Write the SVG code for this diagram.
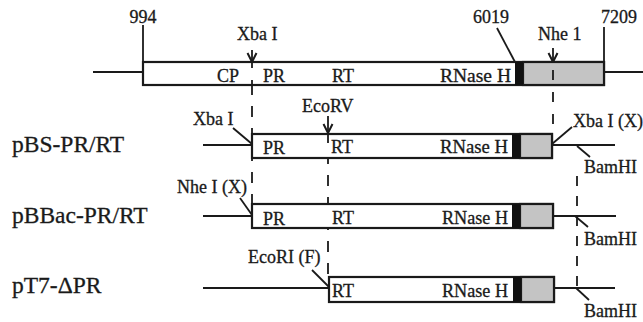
<svg xmlns="http://www.w3.org/2000/svg" width="643" height="322" viewBox="0 0 643 322">
<defs>
<style>
text{font-family:"Liberation Serif","Times New Roman",serif;font-size:18px;fill:#1a1a1a;stroke:#1a1a1a;stroke-width:0.3}
.lab{font-size:23.5px}
.box{fill:#fff;stroke:#1a1a1a;stroke-width:2.2}
.blk{fill:#111;stroke:none}
.gry{fill:#c4c4c4;stroke:#1a1a1a;stroke-width:2.2}
.ln{stroke:#1a1a1a;stroke-width:1.8;fill:none}
.dash{stroke:#1a1a1a;stroke-width:1.8;fill:none;stroke-dasharray:11,11}
.ah{stroke:#1a1a1a;stroke-width:2;fill:none;stroke-linejoin:miter}
</style>
<path id="ah" class="ah" d="M-4.5,-9 L0,0 L4.5,-9"/>
</defs>
<rect width="643" height="322" fill="#fff"/>

<g id="connectors">
<line class="dash" x1="252" y1="62" x2="252" y2="204"/>
<line class="dash" x1="328" y1="133" x2="328" y2="277" style="stroke-dashoffset:2"/>
<line class="dash" x1="553" y1="62" x2="553" y2="134" style="stroke-dasharray:10,12;stroke-dashoffset:-8"/>
<line class="dash" x1="577" y1="176" x2="577" y2="288" style="stroke-dasharray:10,10"/>
<line class="ln" x1="252" y1="50" x2="252" y2="62"/>
<use href="#ah" x="252" y="62"/>
<line class="ln" x1="553" y1="48" x2="553" y2="62"/>
<use href="#ah" x="553" y="62"/>
<line class="ln" x1="328" y1="116" x2="328" y2="133"/>
<use href="#ah" x="328" y="133"/>
</g>

<g id="wildtype">
<line class="ln" x1="93" y1="72" x2="143" y2="72"/>
<line class="ln" x1="604" y1="72" x2="643" y2="72"/>
<line class="ln" x1="143" y1="25" x2="143" y2="62"/>
<line class="ln" x1="604" y1="27" x2="604" y2="62"/>
<line class="ln" x1="497" y1="28" x2="515" y2="62"/>
<rect class="box" x="143" y="62" width="461" height="23"/>
<rect class="gry" x="523" y="62" width="81" height="23"/>
<rect class="blk" x="515" y="62" width="8" height="23"/>
<line class="ln" x1="252" y1="62" x2="252" y2="68"/>
<line class="ln" x1="252" y1="80" x2="252" y2="85"/>
<line class="ln" x1="553" y1="70" x2="553" y2="80"/>
<text x="143" y="23" text-anchor="middle">994</text>
<text x="473" y="23">6019</text>
<text x="601" y="23">7209</text>
<text x="237" y="40">Xba I</text>
<text x="538" y="40">Nhe 1</text>
<text x="217" y="82">CP</text>
<text x="263" y="82">PR</text>
<text x="332" y="82">RT</text>
<text x="440" y="82" textLength="71" lengthAdjust="spacingAndGlyphs">RNase H</text>
</g>

<g id="pBS-PR-RT">
<line class="ln" x1="203" y1="145" x2="252" y2="145"/>
<line class="ln" x1="552" y1="145" x2="615" y2="145"/>
<rect class="box" x="252" y="134" width="300" height="24"/>
<rect class="gry" x="520" y="134" width="32" height="24"/>
<rect class="blk" x="512" y="134" width="8" height="24"/>
<line class="ln" x1="328" y1="134" x2="328" y2="143"/>
<line class="ln" x1="233" y1="128" x2="252" y2="144"/>
<line class="ln" x1="552" y1="144" x2="572" y2="127"/>
<line class="ln" x1="577" y1="146" x2="590" y2="157"/>
<text class="lab" x="12" y="152">pBS-PR/RT</text>
<text x="193" y="125">Xba I</text>
<text x="302" y="112">EcoRV</text>
<text x="263" y="154">PR</text>
<text x="331" y="153">RT</text>
<text x="440" y="153" textLength="68" lengthAdjust="spacingAndGlyphs">RNase H</text>
<text x="573" y="127">Xba I (X)</text>
<text x="584" y="173">BamHI</text>
</g>

<g id="pBBac-PR-RT">
<line class="ln" x1="203" y1="216" x2="252" y2="216"/>
<line class="ln" x1="553" y1="216" x2="616" y2="216"/>
<rect class="box" x="252" y="204" width="301" height="24"/>
<rect class="gry" x="520" y="204" width="33" height="24"/>
<rect class="blk" x="512" y="204" width="8" height="24"/>
<line class="ln" x1="240" y1="198" x2="252" y2="215"/>
<line class="ln" x1="575" y1="216" x2="588" y2="227"/>
<text class="lab" x="12" y="223">pBBac-PR/RT</text>
<text x="177" y="193">Nhe I (X)</text>
<text x="263" y="225">PR</text>
<text x="332" y="224">RT</text>
<text x="442" y="224" textLength="66" lengthAdjust="spacingAndGlyphs">RNase H</text>
<text x="584" y="245">BamHI</text>
</g>

<g id="pT7-dPR">
<line class="ln" x1="203" y1="288" x2="329" y2="288"/>
<line class="ln" x1="554" y1="288" x2="615" y2="288"/>
<rect class="box" x="329" y="277" width="225" height="25"/>
<rect class="gry" x="521" y="277" width="33" height="25"/>
<rect class="blk" x="513" y="277" width="8" height="25"/>
<line class="ln" x1="312" y1="270" x2="329" y2="287"/>
<line class="ln" x1="576" y1="288" x2="589" y2="300"/>
<text class="lab" x="12" y="293">pT7-ΔPR</text>
<text x="248" y="263">EcoRI (F)</text>
<text x="332" y="297">RT</text>
<text x="442" y="297" textLength="66" lengthAdjust="spacingAndGlyphs">RNase H</text>
<text x="584" y="317">BamHI</text>
</g>
</svg>
